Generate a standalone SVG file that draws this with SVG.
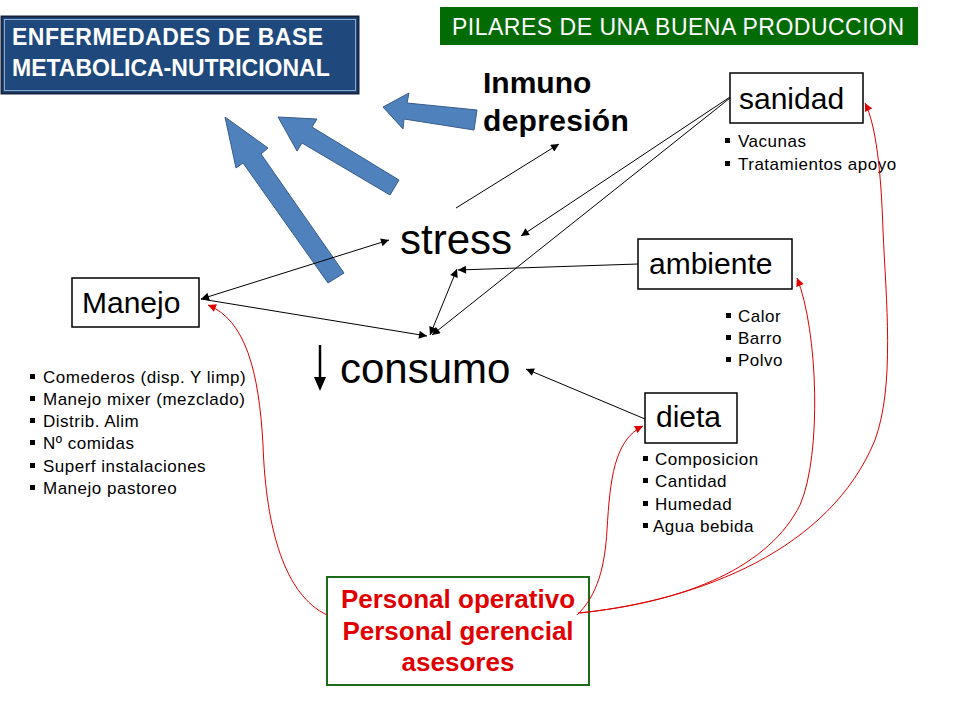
<svg xmlns="http://www.w3.org/2000/svg" width="960" height="720" viewBox="0 0 960 720">
<defs>
<style>
.lbl{font-family:"Liberation Sans",Arial,sans-serif;fill:#000}
.box{fill:#fff;stroke:#000;stroke-width:1.5}
.big{font-size:42px}
.node{font-size:30px}
.bul{font-size:17px;letter-spacing:0.5px}
.blk{fill:none;stroke:#000;stroke-width:1}
.red{fill:none;stroke:#e00000;stroke-width:1}
.barrow{fill:#4f81bd;stroke:#385d8a;stroke-width:1}
.sq{fill:#000}
</style>
<marker id="ah" viewBox="0 0 10 10" refX="10" refY="5" markerWidth="9" markerHeight="8" markerUnits="userSpaceOnUse" orient="auto-start-reverse">
<path d="M0,0 L10,5 L0,10 Z" fill="#000"/>
</marker>
<marker id="rh" viewBox="0 0 10 10" refX="10" refY="5" markerWidth="9" markerHeight="8" markerUnits="userSpaceOnUse" orient="auto">
<path d="M0,0 L10,5 L0,10 Z" fill="#e00000"/>
</marker>
</defs>
<rect width="960" height="720" fill="#fff"/>

<g id="titulo-enfermedades">
<rect x="1.5" y="16.5" width="357" height="77" fill="#1f497d" stroke="#16233a" stroke-width="2"/>
<rect x="4.5" y="19.5" width="351" height="71" fill="none" stroke="#8ea6c8" stroke-width="1"/>
<text class="lbl" x="12" y="45" font-size="23" font-weight="bold" letter-spacing="0.5" style="fill:#fff">ENFERMEDADES DE BASE</text>
<text class="lbl" x="12" y="76" font-size="23" font-weight="bold" style="fill:#fff">METABOLICA-NUTRICIONAL</text>
</g>

<g id="titulo-pilares">
<rect x="440" y="7" width="478" height="38" fill="#036b03"/>
<text class="lbl" x="452" y="35" font-size="23" letter-spacing="0.5" style="fill:#fff">PILARES DE UNA BUENA PRODUCCION</text>
</g>

<g id="flechas-azules">
<polygon class="barrow" points="225,117 268,148 261,154 344,273 328,283 243,163 236,168"/>
<polygon class="barrow" points="278,117 317,119 312,127 399,180 390,195 302,143 297,151"/>
<polygon class="barrow" points="383,107 409,93 407,103 477,110 474,130 404,119 403,129"/>
</g>

<g id="inmunodepresion">
<text class="lbl" x="483" y="93" font-size="30" font-weight="bold">Inmuno</text>
<text class="lbl" x="483" y="131" font-size="30" font-weight="bold" letter-spacing="0.3">depresión</text>
</g>

<g id="stress">
<text class="lbl big" x="400" y="254">stress</text>
</g>

<g id="consumo">
<line x1="320" y1="345" x2="320" y2="385" stroke="#000" stroke-width="2.5"/>
<path d="M314,377 L320,391 L326,377 Z" fill="#000"/>
<text class="lbl big" x="340" y="383">consumo</text>
</g>

<g id="manejo">
<rect class="box" x="72" y="278" width="127" height="49"/>
<text class="lbl node" x="82" y="313">Manejo</text>
<rect class="sq" x="30" y="374" width="5" height="5"/>
<rect class="sq" x="30" y="396" width="5" height="5"/>
<rect class="sq" x="30" y="418" width="5" height="5"/>
<rect class="sq" x="30" y="440" width="5" height="5"/>
<rect class="sq" x="30" y="463" width="5" height="5"/>
<rect class="sq" x="30" y="485" width="5" height="5"/>
<text class="lbl bul" x="43" y="383">Comederos (disp. Y limp)</text>
<text class="lbl bul" x="43" y="405">Manejo mixer (mezclado)</text>
<text class="lbl bul" x="43" y="427">Distrib. Alim</text>
<text class="lbl bul" x="43" y="449">Nº comidas</text>
<text class="lbl bul" x="43" y="472">Superf instalaciones</text>
<text class="lbl bul" x="43" y="494">Manejo pastoreo</text>
</g>

<g id="sanidad">
<rect class="box" x="730" y="73" width="133" height="50"/>
<text class="lbl node" x="739" y="109">sanidad</text>
<rect class="sq" x="725" y="138" width="5" height="5"/>
<rect class="sq" x="725" y="161" width="5" height="5"/>
<text class="lbl bul" x="738" y="147">Vacunas</text>
<text class="lbl bul" x="738" y="170">Tratamientos apoyo</text>
</g>

<g id="ambiente">
<rect class="box" x="638" y="239" width="154" height="50"/>
<text class="lbl node" x="649" y="274">ambiente</text>
<rect class="sq" x="726" y="313" width="5" height="5"/>
<rect class="sq" x="726" y="335" width="5" height="5"/>
<rect class="sq" x="726" y="357" width="5" height="5"/>
<text class="lbl bul" x="738" y="322">Calor</text>
<text class="lbl bul" x="738" y="344">Barro</text>
<text class="lbl bul" x="738" y="366">Polvo</text>
</g>

<g id="dieta">
<rect class="box" x="645" y="393" width="92" height="50"/>
<text class="lbl node" x="656" y="427">dieta</text>
<rect class="sq" x="643" y="456" width="5" height="5"/>
<rect class="sq" x="643" y="478" width="5" height="5"/>
<rect class="sq" x="643" y="501" width="5" height="5"/>
<rect class="sq" x="643" y="523" width="5" height="5"/>
<text class="lbl bul" x="655" y="465">Composicion</text>
<text class="lbl bul" x="655" y="487">Cantidad</text>
<text class="lbl bul" x="655" y="510">Humedad</text>
<text class="lbl bul" x="653" y="532">Agua bebida</text>
</g>

<g id="personal">
<rect x="327" y="577" width="262" height="108" fill="#fff" stroke="#1a6b1a" stroke-width="2"/>
<text class="lbl" x="458" y="608" font-size="26" font-weight="bold" text-anchor="middle" style="fill:#e00000">Personal operativo</text>
<text class="lbl" x="458" y="640" font-size="26" font-weight="bold" text-anchor="middle" style="fill:#e00000">Personal gerencial</text>
<text class="lbl" x="458" y="671" font-size="26" font-weight="bold" text-anchor="middle" style="fill:#e00000">asesores</text>
</g>

<g id="conectores">
<line class="blk" x1="201" y1="299" x2="389" y2="240" marker-start="url(#ah)" marker-end="url(#ah)"/>
<line class="blk" x1="201" y1="299" x2="427" y2="336" marker-end="url(#ah)"/>
<line class="blk" x1="430" y1="335" x2="457" y2="269" marker-start="url(#ah)" marker-end="url(#ah)"/>
<line class="blk" x1="638" y1="264" x2="458" y2="270" marker-end="url(#ah)"/>
<line class="blk" x1="730" y1="97" x2="521" y2="236" marker-end="url(#ah)"/>
<line class="blk" x1="730" y1="98" x2="432" y2="335" marker-end="url(#ah)"/>
<line class="blk" x1="456" y1="208" x2="559" y2="144" marker-end="url(#ah)"/>
<line class="blk" x1="645" y1="419" x2="526" y2="369" marker-end="url(#ah)"/>
<path class="red" d="M327,615 C285,595 266,530 263,445 C259,370 245,320 208,305" marker-end="url(#rh)"/>
<path class="red" d="M577,615 C598,595 605,565 607,530 C610,480 614,440 643,426" marker-end="url(#rh)"/>
<path class="red" d="M578,613 C690,602 770,565 800,505 C822,455 818,330 797,278" marker-end="url(#rh)"/>
<path class="red" d="M580,613 C700,600 830,550 875,440 C895,385 886,300 883,230 C881,170 876,125 865,103" marker-end="url(#rh)"/>
</g>
</svg>
